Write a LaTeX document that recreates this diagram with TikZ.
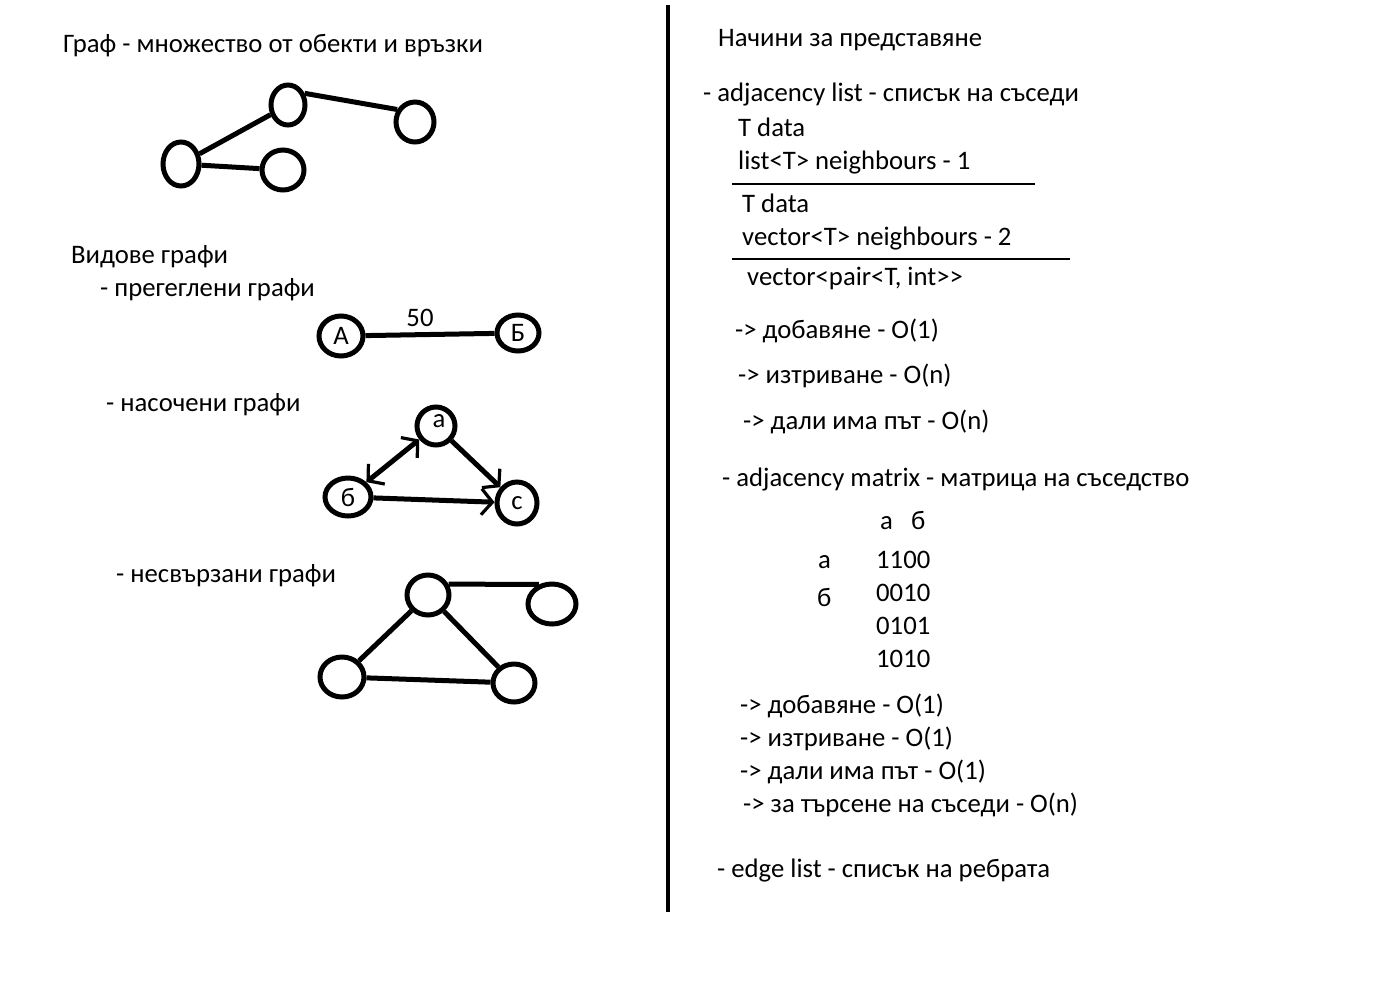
\documentclass[tikz,border=0pt]{standalone}
\usepackage{fontspec}
\setmainfont{Carlito}
\usetikzlibrary{arrows.meta,shapes.geometric}
\begin{document}
\begin{tikzpicture}[x=1pt,y=-1pt,
  txt/.style={anchor=west,inner sep=0pt,text height=17pt,text depth=0pt,font=\fontsize{26.7}{30}\selectfont},
  vtx/.style={draw,ellipse,line width=5pt,inner sep=0pt,font=\fontsize{26.7}{30}\selectfont},
  edge/.style={line width=5pt},
  barb/.tip={Straight Barb[length=11pt,width=26pt,line width=3.2pt]},
  arr/.style={line width=5pt,-barb},
  rule/.style={line width=1.2pt}]
\useasboundingbox[fill=white] (0,0) rectangle (1384,994);
% left texts
\node[txt] (t1) at (63,44) {Граф - множество от обекти и връзки};
\node[txt] (t2) at (71,255) {Видове графи};
\node[txt] (t3) at (100,288) {- прегеглени графи};
\node[txt] (t4) at (106,403) {- насочени графи};
\node[txt] (t5) at (116,574) {- несвързани графи};
% graph 1
\node[vtx,minimum width=34pt,minimum height=40pt] (g1) at (288,105) {};
\node[vtx,minimum width=38pt,minimum height=40pt] (g2) at (415,122) {};
\node[vtx,minimum width=36pt,minimum height=44pt] (g3) at (181,164) {};
\node[vtx,minimum width=42pt,minimum height=40pt] (g4) at (283,170) {};
\draw[edge] (g1.35) -- (g2.145);
\draw[edge] (g1) -- (g3);
\draw[edge] (g3) -- (g4);
% weighted
\node[vtx,minimum width=44pt,minimum height=40pt] (wA) at (341,336) {А};
\node[vtx,minimum width=42pt,minimum height=36pt] (wB) at (518,333) {Б};
\draw[edge] (wA) -- (wB);
\node[inner sep=0pt,font=\fontsize{26.7}{30}\selectfont] (w50) at (420,318) {50};
% directed
\node[vtx,minimum width=38pt,minimum height=38pt] (da) at (436,426) {};
\node[inner sep=0pt,font=\fontsize{26.7}{30}\selectfont] (la) at (439,421) {а};
\node[vtx,minimum width=46pt,minimum height=38pt] (db) at (348,497) {б};
\node[vtx,minimum width=40pt,minimum height=42pt] (dc) at (517,503) {с};
\draw[line width=5pt,barb-barb] (da) -- (db);
\draw[arr] (da) -- (dc);
\draw[arr] (db) -- (dc);
% disconnected
\node[vtx,minimum width=42pt,minimum height=40pt] (ua) at (428,595) {};
\node[vtx,minimum width=48pt,minimum height=40pt] (ub) at (552,604) {};
\node[vtx,minimum width=44pt,minimum height=40pt] (uc) at (342,677) {};
\node[vtx,minimum width=42pt,minimum height=38pt] (ud) at (514,683) {};
\draw[edge] (ua.28) -- (ub.124);
\draw[edge] (ua) -- (uc);
\draw[edge] (ua) -- (ud);
\draw[edge] (uc) -- (ud);
% divider
\coordinate (vt) at (668,5);
\coordinate (vb) at (668,912);
\draw[line width=4.5pt] (vt) -- (vb);
% right texts
\node[txt] (r1) at (718,38) {Начини за представяне};
\node[txt] (r2) at (703,93) {- adjacency list - списък на съседи};
\node[txt] (r3) at (738,128) {T data};
\node[txt] (r4) at (738,161) {list<T> neighbours - 1};
\coordinate (l1a) at (732,184); \coordinate (l1b) at (1035,184);
\draw[rule] (l1a) -- (l1b);
\node[txt] (r5) at (742,204) {T data};
\node[txt] (r6) at (742,237) {vector<T> neighbours - 2};
\coordinate (l2a) at (732,259); \coordinate (l2b) at (1070,259);
\draw[rule] (l2a) -- (l2b);
\node[txt] (r7) at (747,277) {vector<pair<T, int>{}>};
\node[txt] (r8) at (735,330) {-> добавяне - O(1)};
\node[txt] (r9) at (738,375) {-> изтриване - O(n)};
\node[txt] (r10) at (743,421) {-> дали има път - O(n)};
\node[txt] (r11) at (722,478) {- adjacency matrix - матрица на съседство};
\node[txt] (m0a) at (880,521) {а};
\node[txt] (m0b) at (911,521) {б};
\node[txt] (m1) at (818,560) {а};
\node[txt] (m2) at (817,598) {б};
\node[txt] (m3) at (876,560) {1100};
\node[txt] (m4) at (876,593) {0010};
\node[txt] (m5) at (876,626) {0101};
\node[txt] (m6) at (876,659) {1010};
\node[txt] (r12) at (740,705) {-> добавяне - O(1)};
\node[txt] (r13) at (740,738) {-> изтриване - O(1)};
\node[txt] (r14) at (740,771) {-> дали има път - O(1)};
\node[txt] (r15) at (743,804) {-> за търсене на съседи - O(n)};
\node[txt] (r16) at (717,869) {- edge list - списък на ребрата};
\end{tikzpicture}
\end{document}
